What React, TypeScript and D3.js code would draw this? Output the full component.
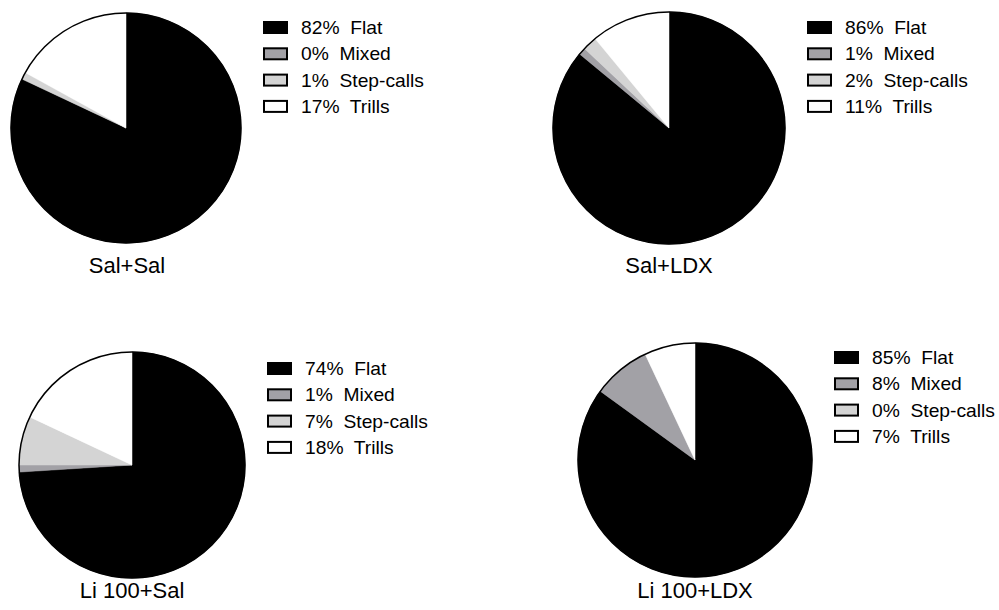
import React from "react";
import * as d3 from "d3";

const categories = ["Flat", "Mixed", "Step-calls", "Trills"];
const groups = ["Sal+Sal", "Sal+LDX", "Li 100+Sal", "Li 100+LDX"];
const salSal = [82, 0, 1, 17];
const salLdx = [86, 1, 2, 11];
const liSal = [74, 1, 7, 18];
const liLdx = [85, 8, 0, 7];
const seriesValues = [salSal, salLdx, liSal, liLdx];
const colors = ["#000000", "#a2a1a6", "#d4d4d4", "#ffffff"];

const layout = [
  { cx: 126, cy: 128, r: 115, lx: 263, ly: 21, tx: 127, ty: 273 },
  { cx: 669, cy: 128, r: 116, lx: 807, ly: 21, tx: 669, ty: 273 },
  { cx: 132, cy: 465, r: 113, lx: 267, ly: 362, tx: 132, ty: 598 },
  { cx: 695, cy: 460, r: 117, lx: 834, ly: 351, tx: 695, ty: 598 },
];

const font = "'Liberation Sans', Arial, sans-serif";

export default function App() {
  const pie = d3.pie<number>().sort(null).value((d) => d);
  return (
    <svg width={999} height={610} style={{ position: "absolute", left: 0, top: 0, background: "#fff" }}>
      {seriesValues.map((vals, gi) => {
        const L = layout[gi];
        const arc = d3.arc<d3.PieArcDatum<number>>().innerRadius(0).outerRadius(L.r);
        const arcs = pie(vals);
        return (
          <g key={gi}>
            <g transform={`translate(${L.cx},${L.cy})`}>
              {arcs.map((a, i) =>
                a.value > 0 ? <path key={i} d={arc(a) || ""} fill={colors[i]} stroke={colors[i]} strokeWidth={0.5} /> : null
              )}
              <circle r={L.r} fill="none" stroke="#000" strokeWidth={1.5} />
            </g>
            {categories.map((c, i) => (
              <g key={c} transform={`translate(${L.lx},${L.ly + i * 26.3})`}>
                <rect x={1} y={1} width={23} height={11} fill={colors[i]} stroke="#000" strokeWidth={2} />
                <text
                  transform="translate(38,13) scale(1.1,1)"
                  fontFamily={font}
                  fontSize={17.5}
                  fill="#000"
                  style={{ whiteSpace: "pre" }}
                >
                  {`${vals[i]}%  ${c}`}
                </text>
              </g>
            ))}
            <text x={L.tx} y={L.ty} textAnchor="middle" fontFamily={font} fontSize={22} fill="#000">
              {groups[gi]}
            </text>
          </g>
        );
      })}
    </svg>
  );
}
